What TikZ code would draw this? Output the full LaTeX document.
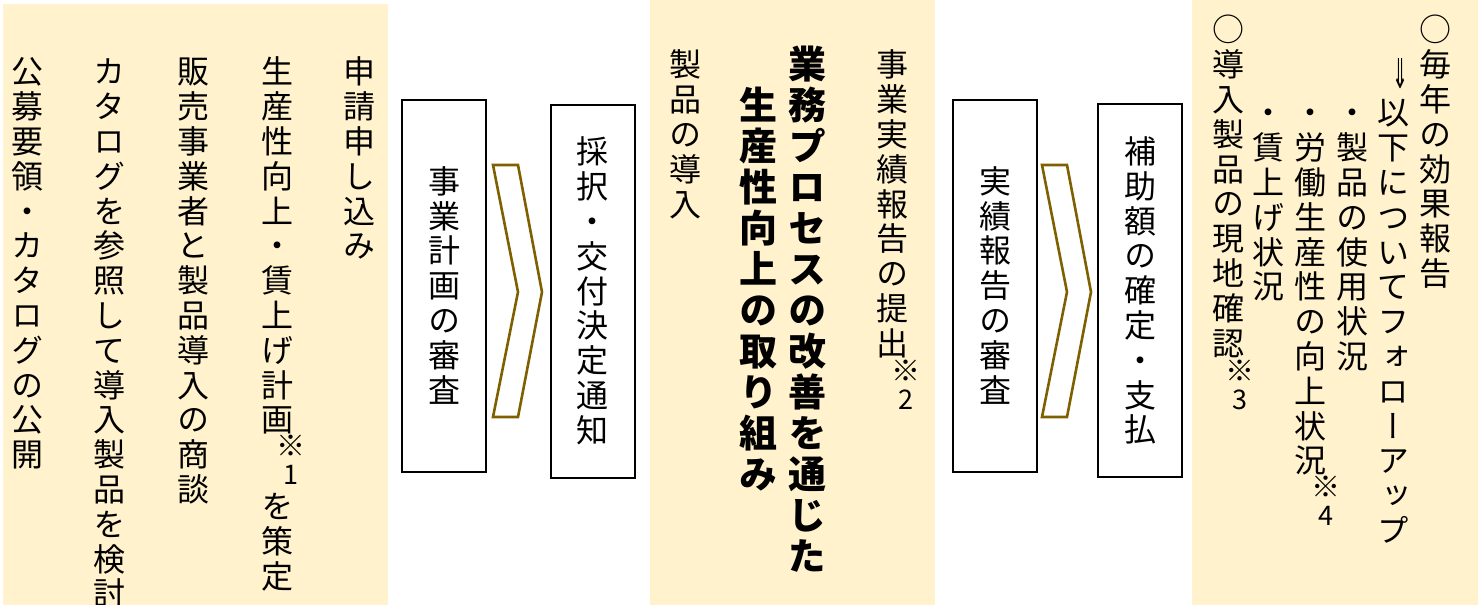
\documentclass[tikz,border=0pt]{standalone}
\usepackage{fontspec}
\usepackage{graphicx}
\usepackage{tikz}
\newfontfamily\jp[RawFeature=+vert]{Noto Sans CJK JP}
\newfontfamily\kigo{DejaVu Sans}
\definecolor{kinari}{HTML}{FFF2CC}
\definecolor{kogane}{HTML}{7F6000}
\newlength\tateadv
\newcommand\tatefont{\jp\fontsize{16}{16}\selectfont\setlength\tateadv{17.4pt}}
\newcommand\kome{{\fontsize{14.5}{14}\selectfont ※}}
\ExplSyntaxOn
\NewDocumentCommand\tate{m}
 {
  \vbox
   {
    \offinterlineskip
    \tl_map_inline:nn {#1}
     {
      \hbox to 1.2em
       {
        \hss
        \vrule height \dimexpr \tateadv - (\tateadv - 1em) / 2 - .12em \relax
               depth \dimexpr (\tateadv - 1em) / 2 + .12em \relax
               width 0pt
        ##1
        \hss
       }
     }
   }
 }
\ExplSyntaxOff
\tikzset{
  tate/.style={inner sep=0pt, anchor=north, font=\tatefont},
  futoji/.style={tate, font=\jp\bfseries\fontsize{19}{19}\selectfont\setlength\tateadv{20.5pt}},
  waku/.style={draw, line width=1pt, fill=white, inner sep=0pt,
    minimum width=42pt, minimum height=186pt, font=\tatefont},
  chu/.style={inner sep=0pt, align=center, font=\jp\fontsize{13.5}{14}\selectfont},
  yajirushi/.style={draw=kogane, line width=1.3pt, line join=miter},
  kami/.style={fill=kinari}
}
\begin{document}
\begin{tikzpicture}[x=0.5pt,y=-0.5pt]
    \useasboundingbox (0,0) rectangle (1478,605);
    \foreach \a/\b/\c in {3/4/388, 650/0/935, 1192/0/1478}{\fill[kami] (\a,\b) rectangle (\c,605);}

    \node[tate] (shinsei) at (359,54) {\tate{申請申し込み}};
    \node[tate] (keikaku) at (277,54) {\tate{生産性向上・賃上げ計画}};
    \node[chu] (chu1) at (291,460) {\kome\\1};
    \node[tate] (sakutei) at (277,489) {\tate{を策定}};
    \node[tate] (shodan) at (193,54) {\tate{販売事業者と製品導入の商談}};
    \node[tate] (kento) at (109,54) {\tate{カタログを参照して導入製品を検討}};
    \node[tate] (kokai) at (27,54) {\tate{公募要領・カタログの公開}};

    \node[waku] (shinsa) at (444,285.5) {\tate{事業計画の審査}};
    \node[waku, minimum height=186.5pt] (saitaku) at (592.5,291) {\tate{採択・交付決定通知}};
    \node[waku] (jisseki) at (995,285.5) {\tate{実績報告の審査}};
    \node[waku, minimum height=186.5pt] (kakutei) at (1140,290.5) {\tate{補助額の確定・支払}};
    \foreach \cx in {493,1042}{
        \draw[yajirushi] (\cx,165) -- ++(25,0) -- ++(24,127) -- ++(-24,125) -- ++(-25,0) -- ++(25,-125) -- cycle;
    }

    \node[tate] (hokoku) at (892,47) {\tate{事業実績報告の提出}};
    \node[chu] (chu2) at (906,385) {\kome\\2};
    \node[futoji] (gyomu) at (807,43) {\tate{業務プロセスの改善を通じた}};
    \node[futoji] (seisan) at (758,84) {\tate{生産性向上の取り組み}};
    \node[tate] (donyu) at (685,47) {\tate{製品の導入}};

    \node[tate] (maitoshi) at (1435,12) {\tate{○毎年の効果報告}};
    \node[inner sep=0pt, font=\kigo] (ya) at (1400,74) {\resizebox{8pt}{15pt}{⇓}};
    \node[tate] (followup) at (1393,95) {\tate{以下についてフォローアップ}};
    \node[tate] (shiyo) at (1352,95) {\tate{・製品の使用状況}};
    \node[tate] (rodo) at (1310,95) {\tate{・労働生産性の向上状況}};
    \node[chu] (chu4) at (1326,501) {\kome\\4};
    \node[tate] (chinage) at (1268,95) {\tate{・賃上げ状況}};
    \node[tate] (genchi) at (1228,12) {\tate{○導入製品の現地確認}};
    \node[chu] (chu3) at (1240,385) {\kome\\3};
\end{tikzpicture}
\end{document}
